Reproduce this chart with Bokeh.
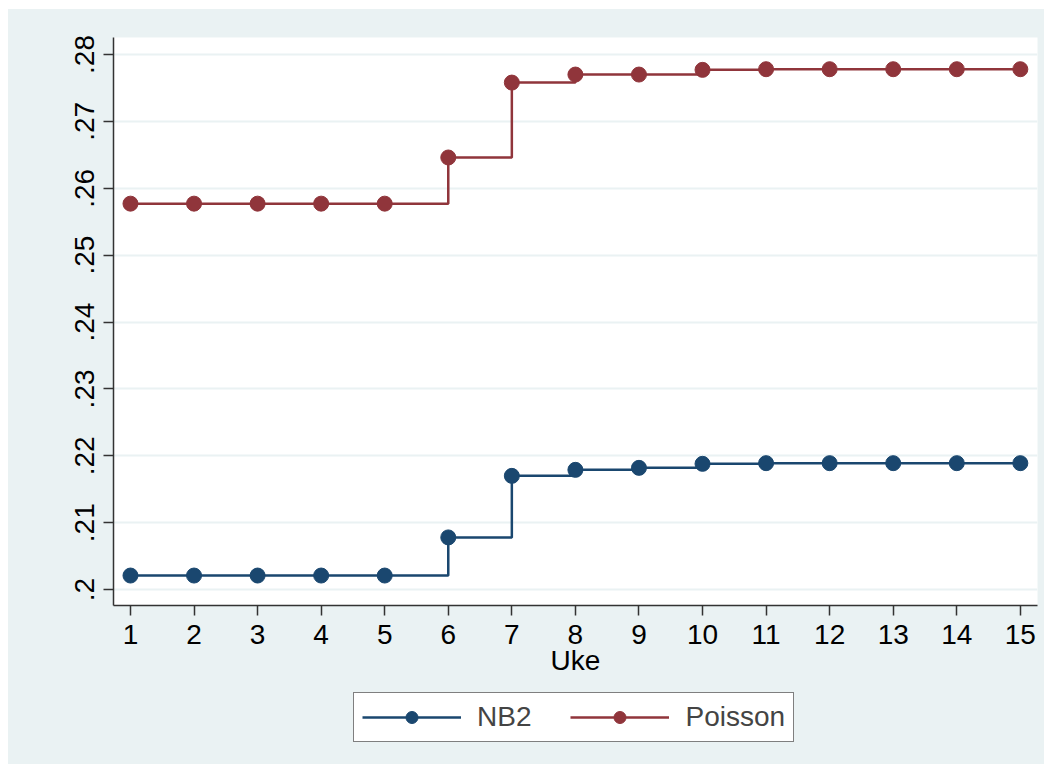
from bokeh.plotting import figure
from bokeh.models import FixedTicker, Range1d, Legend, LegendItem
from bokeh.layouts import column
from bokeh.embed import file_html
from bokeh.resources import INLINE

weeks = list(range(1, 16))
nb2 = [0.2021, 0.2021, 0.2021, 0.2021, 0.2021, 0.2078, 0.2170, 0.2179, 0.2182,
       0.2188, 0.2189, 0.2189, 0.2189, 0.2189, 0.2189]
poisson = [0.2577, 0.2577, 0.2577, 0.2577, 0.2577, 0.2646, 0.2758, 0.2770, 0.2770,
           0.2777, 0.2778, 0.2778, 0.2778, 0.2778, 0.2778]
y_ticks = [0.20, 0.21, 0.22, 0.23, 0.24, 0.25, 0.26, 0.27, 0.28]
y_tick_labels = [".2", ".21", ".22", ".23", ".24", ".25", ".26", ".27", ".28"]
x_label = "Uke"
series_names = ["NB2", "Poisson"]

BG = "#EAF2F3"
NAVY = "#1a476f"
MAROON = "#90353b"
FONT = "Liberation Sans"

p = figure(width=1036, height=671, output_backend="svg", toolbar_location=None,
           x_range=Range1d(0.733, 15.27), y_range=Range1d(0.19762, 0.28254),
           min_border_left=105, min_border_right=7, min_border_top=28, min_border_bottom=75)
p.margin = 0
p.border_fill_color = BG
p.background_fill_color = "white"
p.outline_line_color = None

p.xgrid.visible = False
p.ygrid.grid_line_color = BG
p.ygrid.grid_line_width = 2
p.ygrid.ticker = FixedTicker(ticks=y_ticks)

p.xaxis.ticker = FixedTicker(ticks=weeks)
p.yaxis.ticker = FixedTicker(ticks=y_ticks)
p.yaxis.major_label_overrides = {t: l for t, l in zip(y_ticks, y_tick_labels)}
p.yaxis.major_label_orientation = "vertical"

for ax in (p.xaxis, p.yaxis):
    ax.axis_line_color = "#333333"
    ax.axis_line_width = 1.5
    ax.major_tick_line_color = "#333333"
    ax.major_tick_line_width = 1.5
    ax.major_tick_in = 0
    ax.major_tick_out = 10
    ax.minor_tick_line_color = None
    ax.major_label_text_font = FONT
    ax.major_label_text_font_size = "28px"
    ax.major_label_text_color = "black"
p.xaxis.major_label_standoff = 9
p.yaxis.major_label_standoff = 9

p.xaxis.axis_label = x_label
p.xaxis.axis_label_text_font = FONT
p.xaxis.axis_label_text_font_size = "28px"
p.xaxis.axis_label_text_font_style = "normal"
p.xaxis.axis_label_text_color = "black"
p.xaxis.axis_label_standoff = -2

p.step(weeks, nb2, mode="after", line_color=NAVY, line_width=2.5)
p.scatter(weeks, nb2, size=15, fill_color=NAVY, line_color=NAVY)
p.step(weeks, poisson, mode="after", line_color=MAROON, line_width=2.5)
p.scatter(weeks, poisson, size=15, fill_color=MAROON, line_color=MAROON)

# Legend panel (separate figure so the legend is not clipped by the plot frame);
# its renderers reuse the data but the ranges keep them out of view.
leg = figure(width=1036, height=84, output_backend="svg", toolbar_location=None,
             x_range=Range1d(100, 101), y_range=Range1d(100, 101),
             x_axis_location=None, y_axis_location=None,
             min_border_left=105, min_border_right=7,
             min_border_top=0, min_border_bottom=0)
leg.margin = 0
leg.grid.visible = False
leg.outline_line_color = None
leg.background_fill_color = BG
leg.border_fill_color = BG

r1 = leg.line(weeks, nb2, line_color=NAVY, line_width=2.5)
c1 = leg.scatter(weeks, nb2, size=15, fill_color=NAVY, line_color=NAVY)
r2 = leg.line(weeks, poisson, line_color=MAROON, line_width=2.5)
c2 = leg.scatter(weeks, poisson, size=15, fill_color=MAROON, line_color=MAROON)

legend = Legend(items=[LegendItem(label=series_names[0], renderers=[r1, c1]),
                       LegendItem(label=series_names[1], renderers=[r2, c2])],
                orientation="horizontal", location=(240, 22))
legend.border_line_color = "black"
legend.border_line_width = 1
legend.background_fill_color = "white"
legend.background_fill_alpha = 1
legend.label_text_font = FONT
legend.label_text_font_size = "28px"
legend.glyph_width = 99
legend.glyph_height = 30
legend.label_standoff = 16
legend.spacing = 39
legend.padding = 8
legend.margin = 0
leg.add_layout(legend, "center")

layout = column(p, leg, spacing=0, margin=(9, 0, 0, 8),
                styles={"background-color": BG})
open("out.html", "w").write(file_html(layout, INLINE))
